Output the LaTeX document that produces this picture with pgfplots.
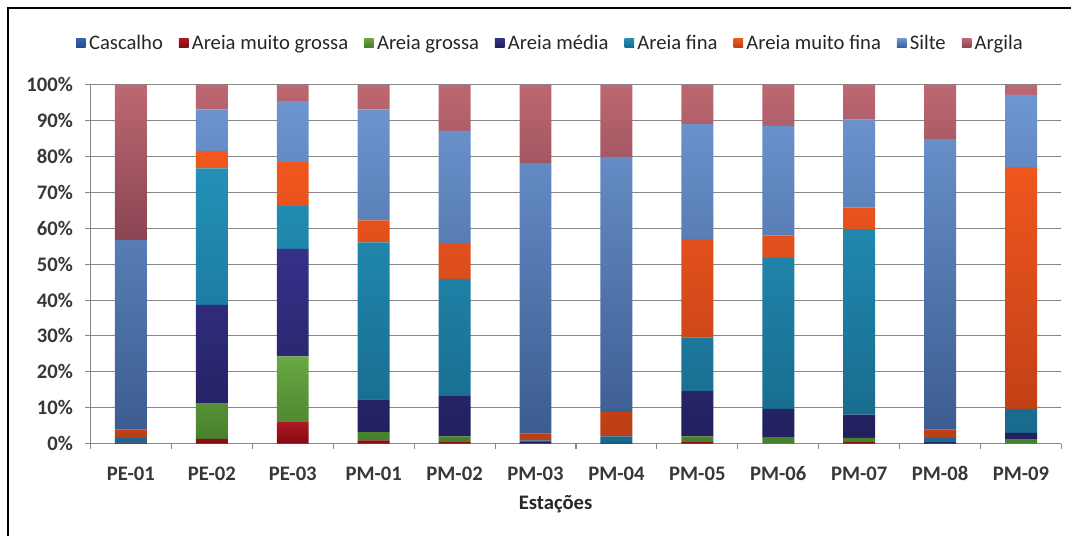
\documentclass[border=0pt]{standalone}
\usepackage{pgfplots}
\pgfplotsset{compat=1.18}
\usepackage{pgfplotstable}
\usepackage{fontspec}
\setmainfont{Carlito}

% light (top) and dark (bottom) tone of each class
\definecolor{casL}{HTML}{3A62AE}\definecolor{casD}{HTML}{26478C}
\definecolor{amgL}{HTML}{B01822}\definecolor{amgD}{HTML}{850A12}
\definecolor{agL}{HTML}{69A843}\definecolor{agD}{HTML}{467E2A}
\definecolor{amL}{HTML}{35318A}\definecolor{amD}{HTML}{221F5C}
\definecolor{afL}{HTML}{2390B8}\definecolor{afD}{HTML}{17698A}
\definecolor{amfL}{HTML}{F2581F}\definecolor{amfD}{HTML}{BC3E15}
\definecolor{silL}{HTML}{6E96D0}\definecolor{silD}{HTML}{3B5C90}
\definecolor{argL}{HTML}{BD6872}\definecolor{argD}{HTML}{8A4452}
\definecolor{gridc}{RGB}{135,135,135}
\definecolor{txt}{RGB}{55,55,55}

% station, then share of each class (%)
\pgfplotstableread{
x cas amg ag am af amf silte arg
0 0 0 0 0.3 1.2 2.4 52.9 43.2
1 0 1.3 9.8 27.6 38.0 4.9 11.6 6.8
2 0 6.2 18.1 30.0 12.0 12.2 17.0 4.5
3 0 0.9 2.3 9.1 43.8 6.1 31.0 6.8
4 0 0.6 1.4 11.2 32.7 10.0 31.3 12.8
5 0 0 0 0.4 0.5 1.9 75.4 21.8
6 0 0 0 0.2 1.8 6.8 71.1 20.1
7 0 0.6 1.4 12.6 15.0 27.4 32.1 10.9
8 0 0 1.8 7.9 42.0 6.3 30.6 11.4
9 0 0.6 1.0 6.5 51.7 6.0 24.5 9.7
10 0 0 0 0.6 1.0 2.3 81.0 15.1
11 0 0 1.1 1.9 6.7 67.4 20.1 2.8
}\data

\begin{document}
\begin{tikzpicture}
\path (-67.9pt,-69.75pt) rectangle (736.1pt,333pt);
\draw[line width=1.6pt] (-61.9pt,-69.75pt) -- (-61.9pt,327pt) -- (736.1pt,327pt);
\begin{axis}[
	scale only axis,
	width=729pt, height=269.25pt,
	ybar stacked, bar width=24pt,
	xmin=-0.5, xmax=11.5, ymin=0, ymax=100,
	axis x line*=bottom, axis y line*=left,
	axis line style={gridc, line width=0.8pt},
	xtick={-0.5,0.5,...,11.5},
	x tick label as interval,
	xticklabels={PE-01,PE-02,PE-03,PM-01,PM-02,PM-03,PM-04,PM-05,PM-06,PM-07,PM-08,PM-09},
	ytick={0,10,...,100},
	yticklabels={0\%,10\%,20\%,30\%,40\%,50\%,60\%,70\%,80\%,90\%,100\%},
	tick align=outside, major tick length=4pt,
	tick style={gridc, line width=0.8pt},
	ymajorgrids, grid style={gridc, line width=0.8pt},
	ticklabel style={font=\fontsize{15.5}{18}\selectfont\bfseries, text=txt},
	xticklabel style={anchor=base, yshift=-24pt},
	yticklabel style={anchor=east, inner sep=0pt, xshift=-9pt},
	xlabel={Estações},
	xlabel style={font=\fontsize{15.5}{18}\selectfont\bfseries, text=black!85,
		at={(axis description cs:0.479,-0.17)}, anchor=center},
	legend columns=-1,
	legend style={at={(0.474,1.117)}, anchor=center, draw=none, fill=none,
		font=\fontsize{15.5}{18}\selectfont, text=black!85,
		/tikz/every even column/.append style={column sep=10pt},
		/tikz/every odd column/.append style={column sep=0.5pt}},
	legend image code/.code={\path[#1,draw=none] (0pt,-3.6pt) rectangle (7.2pt,3.6pt);},
	every axis plot/.append style={draw=none},
]
\addplot[top color=casL, bottom color=casD] table[x=x,y=cas]{\data};
\addplot[top color=amgL, bottom color=amgD] table[x=x,y=amg]{\data};
\addplot[top color=agL, bottom color=agD] table[x=x,y=ag]{\data};
\addplot[top color=amL, bottom color=amD] table[x=x,y=am]{\data};
\addplot[top color=afL, bottom color=afD] table[x=x,y=af]{\data};
\addplot[top color=amfL, bottom color=amfD] table[x=x,y=amf]{\data};
\addplot[top color=silL, bottom color=silD] table[x=x,y=silte]{\data};
\addplot[top color=argL, bottom color=argD] table[x=x,y=arg]{\data};
\legend{Cascalho, Areia muito grossa, Areia grossa, Areia média, Areia fina, Areia muito fina, Silte, Argila}
\end{axis}
\end{tikzpicture}
\end{document}
